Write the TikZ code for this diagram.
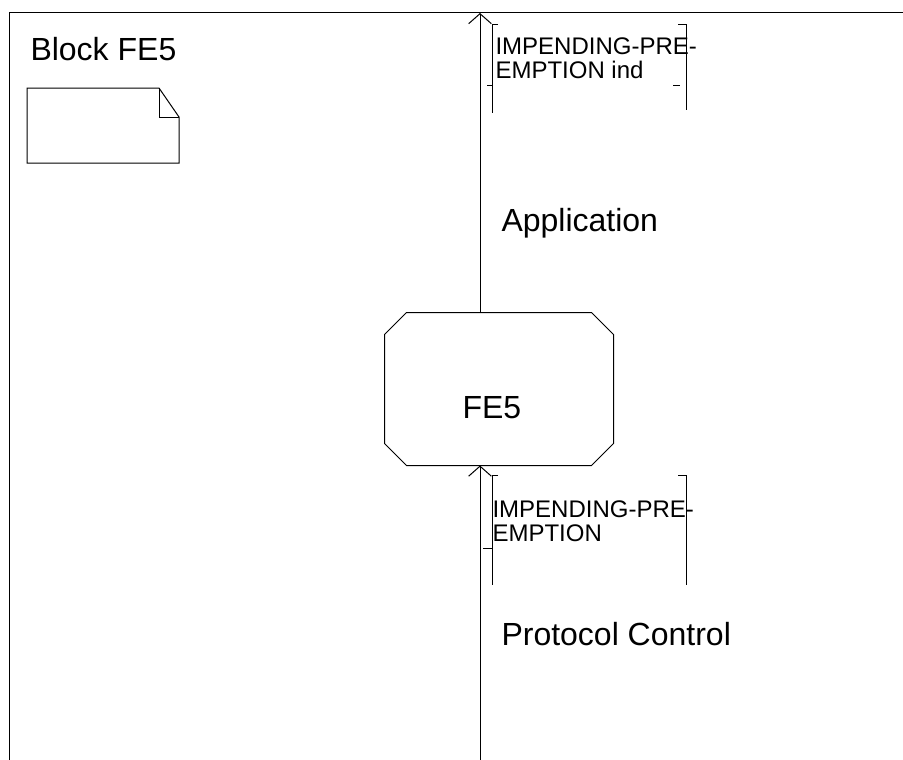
\documentclass[tikz,border=0pt]{standalone}
\usepackage{fontspec}
\setmainfont{Liberation Sans}
\usetikzlibrary{arrows.meta}
\begin{document}
\begin{tikzpicture}[x=0.75pt, y=-0.75pt, line width=0.75pt,
	sig/.style={-{Straight Barb[length=7.5pt,width=17pt]}},
	brk/.style={line width=0.6pt},
	big/.style={inner sep=0, anchor=base west, font=\fontsize{24}{28}\selectfont},
	small/.style={inner sep=0, anchor=north west, align=left, font=\fontsize{18}{18}\selectfont}]

	\useasboundingbox (0,0) rectangle (903,760);

	% frame of the block
	\draw (9,760) -- (9,12) -- (903,12);
	\node [big] (title) at (30,60) {Block FE5};

	% note symbol
	\draw (27,88) -- (159,88) -- (179,117) -- (179,163) -- (27,163) -- cycle;
	\draw (159,88) -- (159,117) -- (179,117);

	% the functional entity
	\node [minimum width=171pt, minimum height=114pt, inner sep=0] (fe5) at (499,389) {};
	\draw ([xshift=16.5pt]fe5.north west) -- ([xshift=-16.5pt]fe5.north east)
		-- ([yshift=-16.5pt]fe5.north east) -- ([yshift=16.5pt]fe5.south east)
		-- ([xshift=-16.5pt]fe5.south east) -- ([xshift=16.5pt]fe5.south west)
		-- ([yshift=16.5pt]fe5.south west) -- ([yshift=-16.5pt]fe5.north west) -- cycle;
	\node [big] (fe5name) at (462,418) {FE5};

	\coordinate (apptop) at (480,13);
	\coordinate (pcbot) at (480,760);

	\draw [sig] (fe5.north -| apptop) -- (apptop);
	\draw [sig] (pcbot) -- (pcbot |- fe5.south);

	\node [big] (app) at (501,231) {Application};
	\node [big] (pc) at (501,645) {Protocol Control};

	% upper signal
	\node [small] (indsig) at (495,37) {IMPENDING-PRE-\\EMPTION ind};
	\draw [brk] (498,24) -- (492,24) -- (492,113);
	\draw [brk] (487,85) -- (492,85);
	\draw [brk] (678,24) -- (686,24) -- (686,110);
	\draw [brk] (673,85) -- (680,85);

	% lower signal
	\node [small] (reqsig) at (492,500) {IMPENDING-PRE-\\EMPTION};
	\draw [brk] (498,475) -- (492,475) -- (492,585);
	\draw [brk] (483,548) -- (492,548);
	\draw [brk] (678,475) -- (686,475) -- (686,585);

\end{tikzpicture}
\end{document}
